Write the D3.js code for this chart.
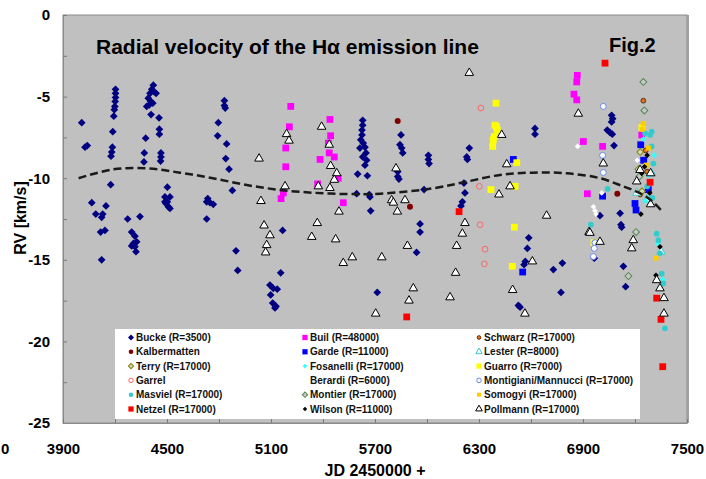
<!DOCTYPE html>
<html lang="en">
<head>
<meta charset="utf-8">
<title>Radial velocity of the H-alpha emission line</title>
<style>
  body { margin: 0; background: #fff; }
  text { font-family: Arial, "Liberation Sans", sans-serif; font-weight: bold; }
</style>
</head>
<body>
<svg width="706" height="479"></svg>
<script src="https://d3js.org/d3.v7.min.js"></script>
<script>
// values: [JD - 2450000, RV km/s]
var bucke = [
  [4008,-6.6],[4027,-8.1],[4040,-8.0],[4066,-11.5],[4089,-12.2],[4123,-12.4],[4129,-12.2],[4148,-11.7],
  [4117,-13.3],[4142,-13.2],[4123,-15.0],[4175,-10.4],
  [4203,-4.55],[4203,-4.8],[4203,-5.05],[4201,-5.3],[4199,-5.6],[4196,-5.8],[4193,-6.2],[4187,-7.15],
  [4185,-8.1],[4181,-8.4],[4177,-8.65],
  [4273,-12.5],[4344,-12.35],[4296,-13.3],[4315,-13.55],[4325,-13.9],[4306,-14.0],[4296,-14.15],[4315,-14.2],[4321,-14.5],
  [4421,-4.3],[4412,-4.55],[4425,-4.7],[4402,-4.8],[4437,-4.8],[4392,-5.1],[4406,-5.3],[4398,-5.5],[4418,-5.4],
  [4383,-5.6],[4408,-6.1],[4454,-6.3],[4456,-7.0],[4456,-7.3],[4377,-7.55],[4369,-8.45],[4367,-9.0],
  [4465,-8.45],[4465,-8.7],[4463,-8.95],
  [4502,-10.55],[4488,-11.15],[4517,-11.15],[4502,-11.45],[4494,-11.55],[4508,-11.75],[4517,-11.85],[4488,-11.45],
  [4831,-5.25],[4831,-5.55],[4836,-5.7],[4796,-6.6],[4792,-7.4],[4844,-7.9],[4839,-8.8],[4858,-9.45],[4877,-10.75],
  [4735,-11.25],[4729,-11.45],[4748,-11.5],[4767,-11.6],[4729,-12.5],[4898,-14.45],[4908,-15.65],
  [5167,-13.2],[5156,-15.8],[5094,-16.55],[5113,-16.75],[5136,-16.8],[5098,-17.15],[5110,-17.65],[5123,-17.95],[5129,-17.85],
  [5629,-6.45],[5629,-6.75],[5625,-7.05],[5625,-7.35],[5618,-7.65],[5632,-7.85],[5613,-8.15],[5642,-8.1],[5648,-8.45],
  [5629,-8.7],[5652,-8.9],[5642,-9.2],[5600,-9.75],[5656,-9.85],[5594,-10.95],[5667,-11.0],[5671,-11.15],[5675,-12.0],[5713,-17.0],
  [5850,-7.35],[5844,-7.95],[5854,-8.15],[5860,-8.45],[5831,-9.6],[5831,-9.9],[5838,-10.05],[5983,-10.7],
  [6008,-8.6],[6008,-8.85],[6012,-9.1],[5960,-12.8],[5960,-13.3],[5940,-14.55],
  [6244,-8.15],[6229,-8.7],[6233,-8.85],[6213,-10.3],[6219,-10.9],[6204,-11.45],[6196,-11.7],
  [6623,-6.95],[6623,-7.3],[6587,-13.65],[6579,-14.3],[6567,-15.1],[6560,-15.3],[6729,-15.6],[6781,-15.2],[6773,-17.0],
  [6527,-17.8],[6537,-17.9],
  [7065,-6.15],[7071,-6.35],[7065,-6.55],[7040,-7.05],[7056,-7.2],[7069,-7.3],[7079,-8.0],[7114,-12.15],[7119,-12.85],
  [7123,-13.0],[6998,-12.3],[7133,-15.4],[7146,-16.65],[6965,-14.9]
];
var buil = [
  [5214,-5.6],[5206,-6.85],[5185,-8.15],[5185,-9.3],[5171,-10.9],[5158,-11.25],[5440,-6.4],[5444,-7.4],[5431,-7.85],
  [5436,-8.45],[5465,-8.7],[5383,-8.85],[5488,-10.0],[5369,-10.35],[5517,-11.5],[6867,-3.7],[6864,-4.1],[6848,-4.85],
  [6864,-5.2],[6902,-7.75],[6925,-10.95],[7013,-8.05],[7239,-7.35]
];
var schwarz = [[7248,-5.25],[7262,-8.3],[7230,-11.0],[7270,-9.6]];
var kalbermatten = [[5831,-6.5],[5902,-11.75],[7098,-10.95]];
var garde = [[6552,-15.75],[6498,-8.85],[7233,-7.95],[7277,-10.7],[7200,-11.55],[7206,-11.95],[7013,-11.1],[7250,-8.9]];
var lester = [[7296,-9.7],[7210,-10.9],[7270,-11.3],[7350,-14.5]];
var terry = [[7219,-9.45],[7240,-10.8],[7230,-8.4]];
var fosanelli = [[7250,-7.6],[7280,-9.8],[7260,-11.4],[7330,-14.0],[7360,-16.2],[7310,-8.6]];
var guarro = [
  [6398,-5.4],[6392,-6.75],[6402,-6.85],[6405,-7.05],[6388,-7.45],[6382,-7.65],[6379,-8.05],[6518,-9.05],[6508,-10.5],
  [6369,-10.7],[6504,-13.0],[6492,-15.4],[6963,-13.95],[7240,-6.9]
];
var garrel = [[6311,-5.7],[6302,-10.5],[6306,-12.85],[6335,-14.35],[6331,-15.25]];
var berardi = [[6869,-8.05],[6960,-11.75],[6969,-12.0],[7008,-10.9],[7213,-8.9],[6975,-12.2]];
var montigiani = [[7017,-5.6],[7013,-8.6],[7017,-9.65],[6969,-13.95],[6965,-14.3],[6960,-14.8]];
var masviel = [
  [7042,-10.65],[6946,-12.85],[7258,-7.25],[7287,-7.35],[7296,-8.05],[7306,-9.1],[7325,-13.4],[7335,-13.8],
  [7344,-14.6],[7354,-15.85],[7363,-16.45],[7373,-19.2],[7296,-7.15],[7270,-10.5],[7300,-11.2]
];
var montier = [[7248,-4.1],[7206,-13.3],[7162,-16.0],[7254,-5.85],[7225,-9.9]];
var somogyi = [[7248,-6.65],[7277,-8.15],[7321,-14.9],[7240,-7.0],[7265,-9.2]];
var netzel = [[6185,-12.05],[5883,-18.5],[7027,-2.95],[7287,-10.25],[7325,-17.35],[7350,-18.65],[7360,-21.55]];
var wilson = [[7344,-14.2],[7321,-15.95],[7239,-9.7],[7270,-8.6],[7255,-9.3],[7285,-10.9],[7234,-12.2]];
var pollmann = [
  [5031,-8.8],[5042,-11.4],[5060,-12.9],[5094,-13.5],[5075,-14.1],[5069,-14.55],[5190,-7.3],[5204,-7.7],[5181,-10.5],
  [5367,-12.75],[5335,-13.6],[5473,-13.75],[5517,-15.2],[5569,-14.85],[5392,-6.85],[5436,-7.95],[5444,-9.25],
  [5479,-9.7],[5465,-10.1],[5440,-10.6],[5373,-10.5],[5492,-12.05],[5704,-18.3],[5739,-14.85],[5821,-9.4],
  [5796,-11.35],[5806,-11.5],[5829,-12.05],[5873,-11.35],[5887,-14.15],[5921,-16.75],[5896,-17.5],[6133,-17.3],
  [6165,-15.8],[6171,-14.15],[6204,-13.4],[6219,-12.75],[6244,-3.55],[6431,-7.35],[6460,-9.15],[6479,-10.5],
  [6415,-11.0],[6494,-16.85],[6608,-15.1],[6565,-18.3],[6690,-12.3],[6873,-6.05],[6935,-13.3],[7017,-9.1],
  [6940,-13.35],[6998,-13.9],[7190,-13.8],[7181,-14.3],[7290,-9.7],[7290,-11.6],[7210,-10.2],[7344,-16.75],
  [7367,-17.35],[7367,-18.3],[7229,-9.5],[7325,-16.25]
];

// dashed trend curve
var trendJD = [3990,4188,4383,4575,4765,4960,5152,5342,5537,5729,6035,6229,6421,6611,6806,6998,7131,7210,7287,7362];
var trendRV = [-10.0,-9.46,-9.4,-9.66,-10.0,-10.42,-10.72,-10.89,-10.97,-10.95,-10.62,-10.21,-9.8,-9.66,-9.7,-10.0,-10.5,-10.83,-11.3,-12.1];

var xTicks = [3900,4200,4500,4800,5100,5400,5700,6000,6300,6600,6900,7200,7500];
var yTicks = [-25,-22.5,-20,-17.5,-15,-12.5,-10,-7.5,-5,-2.5,0];

var series = [
  {name: "Bucke (R=3500)", data: bucke, s: {type: "diamond", size: 30, fill: "#000080"}},
  {name: "Buil (R=48000)", data: buil, s: {type: "square", size: 46, fill: "#ff00ff"}},
  {name: "Schwarz (R=17000)", data: schwarz, s: {type: "circle", size: 18, fill: "#e07020", stroke: "#603010"}},
  {name: "Kalbermatten", data: kalbermatten, s: {type: "circle", size: 28, fill: "#800000"}},
  {name: "Garde (R=11000)", data: garde, s: {type: "square", size: 46, fill: "#0000ff"}},
  {name: "Lester (R=8000)", data: lester, s: {type: "triangle", size: 30, fill: "#ffffff", stroke: "#33cccc"}},
  {name: "Terry (R=17000)", data: terry, s: {type: "diamond", size: 22, fill: "#d8d8c0", stroke: "#808000"}},
  {name: "Fosanelli (R=17000)", data: fosanelli, s: {type: "diamond", size: 18, fill: "#33ffff"}},
  {name: "Guarro (R=7000)", data: guarro, s: {type: "square", size: 46, fill: "#ffff00"}},
  {name: "Garrel", data: garrel, s: {type: "circle", size: 26, fill: "none", stroke: "#ff6666"}},
  {name: "Berardi (R=6000)", data: berardi, s: {type: "diamond", size: 16, fill: "#ffffff"}},
  {name: "Montigiani/Mannucci (R=17000)", data: montigiani, s: {type: "circle", size: 28, fill: "#ffffff", stroke: "#6688ee"}},
  {name: "Masviel (R=17000)", data: masviel, s: {type: "circle", size: 26, fill: "#33cccc"}},
  {name: "Montier (R=17000)", data: montier, s: {type: "diamond", size: 24, fill: "#c8c8c8", stroke: "#558855"}},
  {name: "Somogyi (R=17000)", data: somogyi, s: {type: "square", size: 26, fill: "#ffcc00"}},
  {name: "Netzel (R=17000)", data: netzel, s: {type: "square", size: 46, fill: "#ff0000"}},
  {name: "Wilson (R=11000)", data: wilson, s: {type: "diamond", size: 16, fill: "#000000"}},
  {name: "Pollmann (R=17000)", data: pollmann, s: {type: "triangle", size: 32, fill: "#ffffff", stroke: "#000000"}}
];

var svg = d3.select("svg");

var x = d3.scaleLinear().domain([3900, 7500]).range([63, 687]);
var y = d3.scaleLinear().domain([-25, 0]).range([423, 15]);

var symTypes = {diamond: d3.symbolSquare, square: d3.symbolSquare, circle: d3.symbolCircle, triangle: d3.symbolTriangle};

function drawSym(sel, s, k) {
  sel.attr("d", d3.symbol().type(symTypes[s.type]).size(s.size * k)())
     .attr("fill", s.fill)
     .attr("stroke", s.stroke || "none")
     .attr("stroke-width", s.stroke ? 1 : 0);
}

// plot panel
svg.append("rect")
    .attr("x", x(3900)).attr("y", y(0))
    .attr("width", x(7500) - x(3900)).attr("height", y(-25) - y(0))
    .attr("fill", "#c0c0c0")
    .attr("stroke", "#8a8a8a");
svg.append("line")
    .attr("x1", x(7500) + 1).attr("x2", x(7500) + 1)
    .attr("y1", y(0)).attr("y2", y(-25))
    .attr("stroke", "#a0a0a0").attr("stroke-width", 2);

// axes
var yAxis = svg.append("g")
    .attr("transform", "translate(" + x(3900) + ",0)")
    .call(d3.axisLeft(y).tickValues(yTicks).tickSize(-4).tickSizeOuter(0).tickPadding(13)
      .tickFormat(function(d) { return d % 5 === 0 ? d : ""; }));
var xAxis = svg.append("g")
    .attr("transform", "translate(0," + y(-25) + ")")
    .call(d3.axisBottom(x).tickValues(xTicks).tickSize(-4).tickSizeOuter(0).tickPadding(20)
      .tickFormat(function(d) { return (d - 3900) % 600 === 0 ? d : ""; }));
[xAxis, yAxis].forEach(function(a) {
  a.select(".domain").attr("stroke", "#8a8a8a");
  a.selectAll(".tick line").attr("stroke", "#7a7a7a");
  a.selectAll("text").attr("font-size", 15).attr("fill", "#000")
    .attr("font-family", "Arial, 'Liberation Sans', sans-serif").attr("font-weight", "bold");
});

svg.append("text").attr("x", 1).attr("y", 454).attr("font-size", 15).text("0");

svg.append("text")
    .attr("x", 375).attr("y", 476)
    .attr("text-anchor", "middle").attr("font-size", 16)
    .text("JD 2450000 +");
svg.append("text")
    .attr("transform", "translate(26,218) rotate(-90)")
    .attr("text-anchor", "middle").attr("font-size", 16)
    .text("RV [km/s]");

svg.append("text").attr("x", 96).attr("y", 54).attr("font-size", 21)
    .text("Radial velocity of the H\u03b1 emission line");
svg.append("text").attr("x", 609).attr("y", 52).attr("font-size", 20).text("Fig.2");

// points
series.forEach(function(ser) {
  svg.append("g").selectAll("path")
    .data(ser.data)
    .join("path")
      .attr("transform", function(d) {
        return "translate(" + x(d[0]) + "," + y(d[1]) + ")" + (ser.s.type === "diamond" ? " rotate(45)" : "");
      })
      .call(drawSym, ser.s, 1);
});

// trend
var line = d3.line()
    .x(function(d, i) { return x(trendJD[i]); })
    .y(function(d) { return y(d); })
    .curve(d3.curveCatmullRom);
svg.append("path")
    .datum(trendRV)
    .attr("fill", "none")
    .attr("stroke", "#1a1a1a")
    .attr("stroke-width", 2.5)
    .attr("stroke-dasharray", "8,4")
    .attr("d", line);

// legend
var lg = svg.append("g");
lg.append("rect").attr("x", 115).attr("y", 329).attr("width", 525).attr("height", 90).attr("fill", "#fff");
var colX = [131, 305, 479];
series.forEach(function(ser, i) {
  var cx = colX[i % 3], cy = 337.5 + Math.floor(i / 3) * 14.3;
  lg.append("path")
    .attr("transform", "translate(" + cx + "," + cy + ")" + (ser.s.type === "diamond" ? " rotate(45)" : ""))
    .call(drawSym, ser.s, 0.6);
  lg.append("text")
    .attr("x", cx + 5).attr("y", cy).attr("dy", "0.35em")
    .attr("font-size", 10).attr("fill", "#111")
    .text(ser.name);
});
</script>
</body>
</html>
